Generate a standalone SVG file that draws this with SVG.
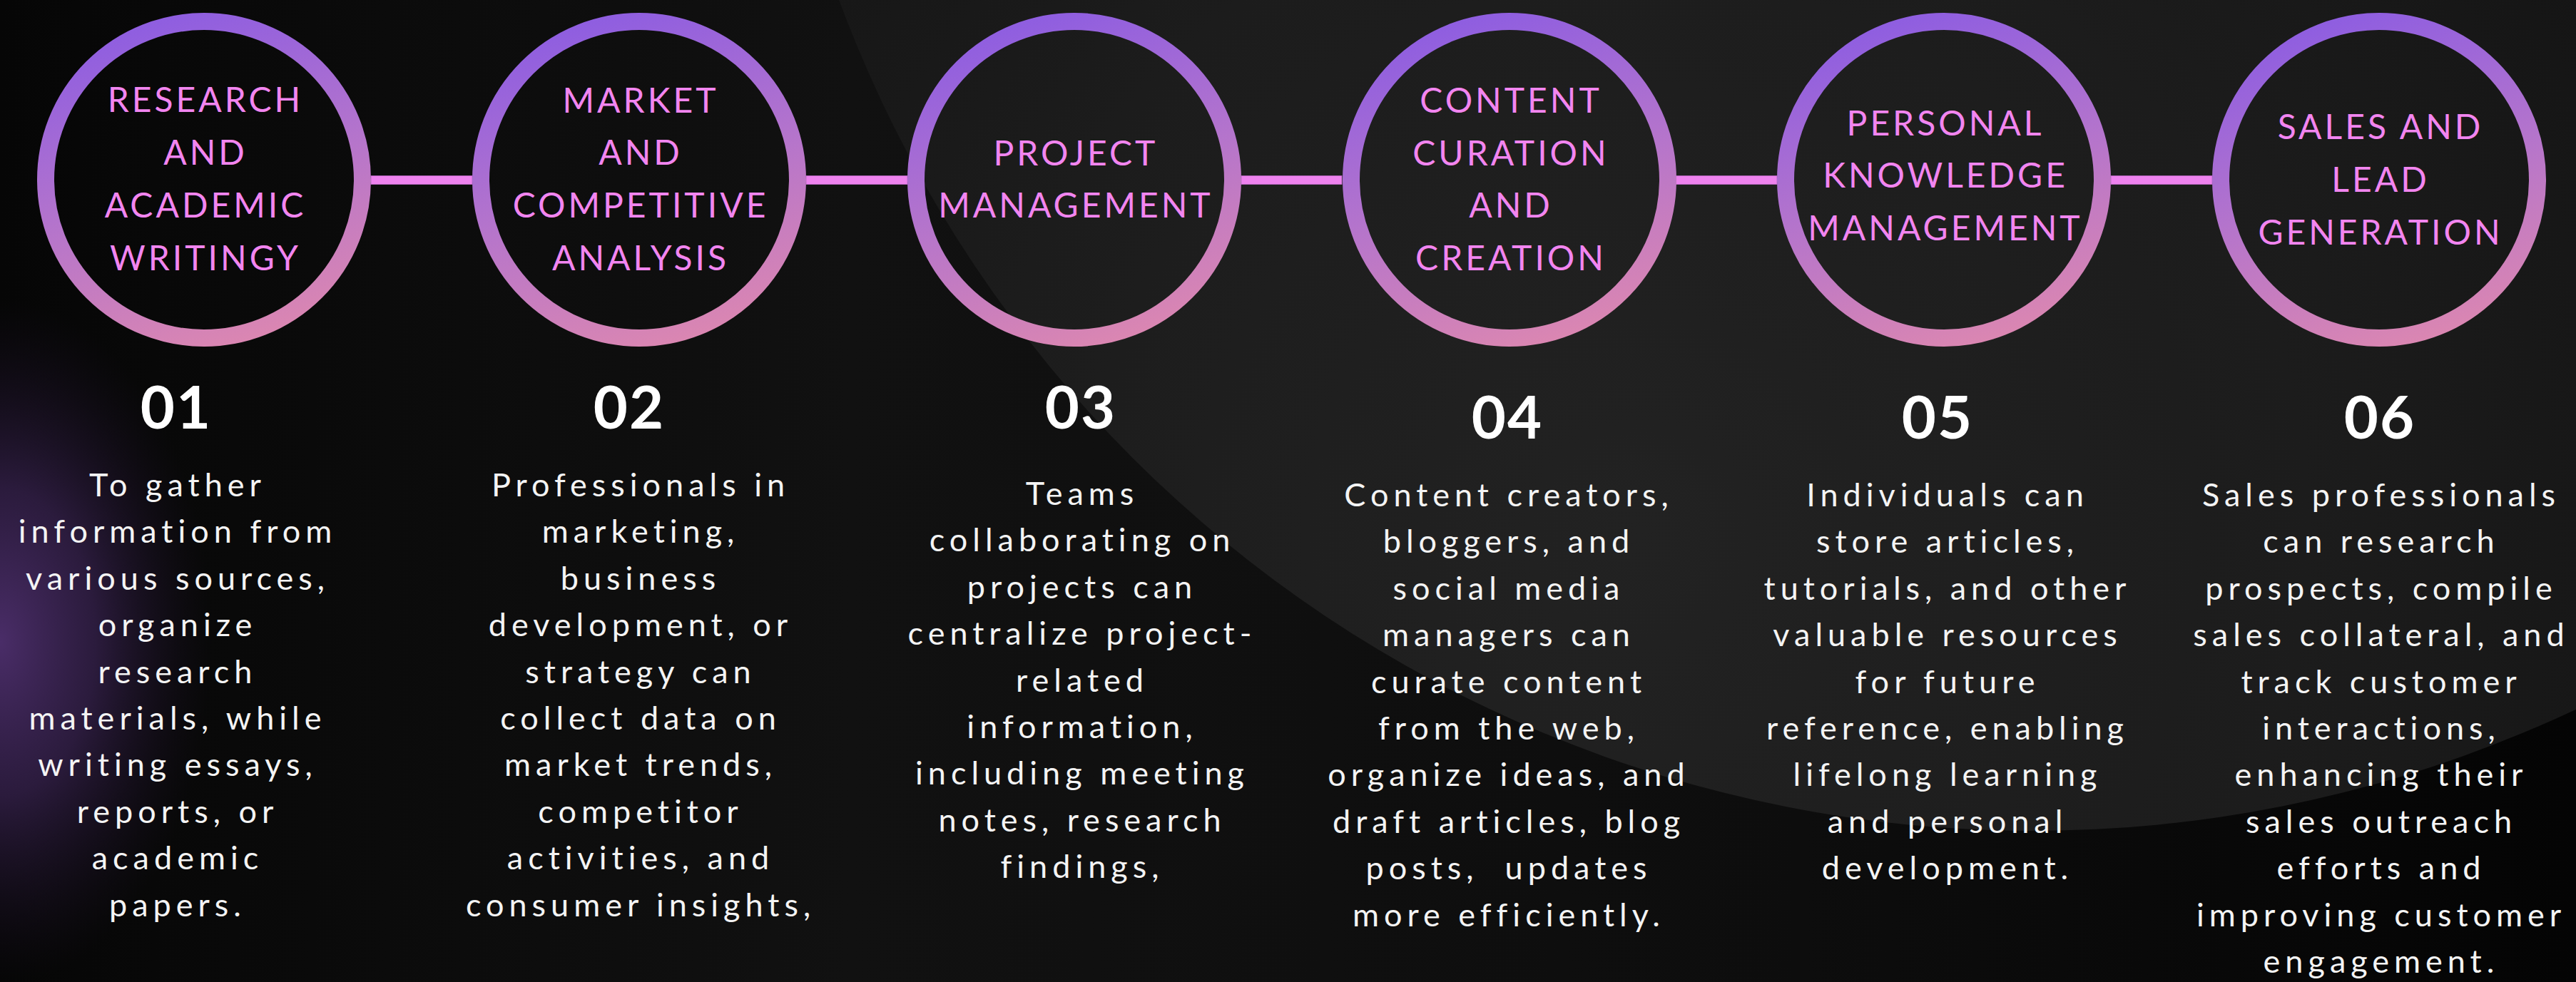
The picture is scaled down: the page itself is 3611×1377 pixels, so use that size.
<svg xmlns="http://www.w3.org/2000/svg" width="3611" height="1377" viewBox="0 0 3611 1377">
  <defs>
    <linearGradient id="bgBase" x1="0" y1="0" x2="1" y2="0">
      <stop offset="0" stop-color="#060606"/>
      <stop offset="0.33" stop-color="#111111"/>
      <stop offset="0.7" stop-color="#0d0d0d"/>
      <stop offset="1" stop-color="#040404"/>
    </linearGradient>
    <radialGradient id="bigFill" gradientUnits="userSpaceOnUse" cx="2300" cy="750" r="1700">
      <stop offset="0" stop-color="#222222"/>
      <stop offset="0.55" stop-color="#1c1c1c"/>
      <stop offset="1" stop-color="#131313"/>
    </radialGradient>
    <radialGradient id="glow" gradientUnits="userSpaceOnUse" cx="0" cy="900" r="480" gradientTransform="translate(0 900) scale(0.62 1) translate(0 -900)">
      <stop offset="0" stop-color="#4a2d68" stop-opacity="1"/>
      <stop offset="0.45" stop-color="#34204a" stop-opacity="0.8"/>
      <stop offset="1" stop-color="#1a1024" stop-opacity="0"/>
    </radialGradient>
    <linearGradient id="ring" x1="0.35" y1="0" x2="0.65" y2="1">
      <stop offset="0" stop-color="#8f5ee0"/>
      <stop offset="0.5" stop-color="#b474cc"/>
      <stop offset="1" stop-color="#da86b2"/>
    </linearGradient>
    <style>
      .ring { fill: none; stroke: url(#ring); stroke-width: 24; }
      .link { fill: #ee82ee; stroke: #b566c0; stroke-width: 0.8; }
      .title { font-family: Lato, "Open Sans", "Liberation Sans", sans-serif; font-weight: 400; font-size: 48px; fill: #f285f0; text-anchor: middle; letter-spacing: 4px; }
      .num { font-family: Lato, "Open Sans", "Liberation Sans", sans-serif; font-weight: 700; font-size: 83px; fill: #ffffff; text-anchor: middle; letter-spacing: 2px; }
      .body { font-family: Lato, "Open Sans", "Liberation Sans", sans-serif; font-weight: 400; font-size: 45px; fill: #f4f4f4; text-anchor: middle; letter-spacing: 7px; }
    </style>
  </defs>

  <g id="background">
    <rect x="0" y="0" width="3611" height="1377" fill="url(#bgBase)"/>
    <circle cx="2850" cy="-620" r="1785" fill="url(#bigFill)"/>
    <rect x="0" y="300" width="420" height="1077" fill="url(#glow)"/>
  </g>

  <g id="connectors">
    <rect class="link" x="520" y="246.5" width="142" height="12"/>
    <rect class="link" x="1130" y="246.5" width="142" height="12"/>
    <rect class="link" x="1740" y="246.5" width="141" height="12"/>
    <rect class="link" x="2349" y="246.5" width="142" height="12"/>
    <rect class="link" x="2959" y="246.5" width="142" height="12"/>
  </g>

  <g id="node1">
    <circle class="ring" cx="286" cy="252" r="222"/>
    <text class="title"><tspan x="288" y="157">RESEARCH</tspan><tspan x="288" y="231">AND</tspan><tspan x="288" y="305">ACADEMIC</tspan><tspan x="288" y="379">WRITINGY</tspan></text>
    <text class="num" x="247" y="601">01</text>
    <text class="body"><tspan x="249" y="696">To gather</tspan><tspan x="249" dy="65.4">information from</tspan><tspan x="249" dy="65.4">various sources,</tspan><tspan x="249" dy="65.4">organize</tspan><tspan x="249" dy="65.4">research</tspan><tspan x="249" dy="65.4">materials, while</tspan><tspan x="249" dy="65.4">writing essays,</tspan><tspan x="249" dy="65.4">reports, or</tspan><tspan x="249" dy="65.4">academic</tspan><tspan x="249" dy="65.4">papers.</tspan></text>
  </g>

  <g id="node2">
    <circle class="ring" cx="896" cy="252" r="222"/>
    <text class="title"><tspan x="898" y="158">MARKET</tspan><tspan x="898" y="231">AND</tspan><tspan x="898" y="305">COMPETITIVE</tspan><tspan x="898" y="379">ANALYSIS</tspan></text>
    <text class="num" x="882" y="601">02</text>
    <text class="body"><tspan x="898" y="696">Professionals in</tspan><tspan x="898" dy="65.4">marketing,</tspan><tspan x="898" dy="65.4">business</tspan><tspan x="898" dy="65.4">development, or</tspan><tspan x="898" dy="65.4">strategy can</tspan><tspan x="898" dy="65.4">collect data on</tspan><tspan x="898" dy="65.4">market trends,</tspan><tspan x="898" dy="65.4">competitor</tspan><tspan x="898" dy="65.4">activities, and</tspan><tspan x="898" dy="65.4">consumer insights,</tspan></text>
  </g>

  <g id="node3">
    <circle class="ring" cx="1506" cy="252" r="222"/>
    <text class="title"><tspan x="1508" y="232">PROJECT</tspan><tspan x="1508" y="305">MANAGEMENT</tspan></text>
    <text class="num" x="1515" y="601">03</text>
    <text class="body"><tspan x="1517" y="708">Teams</tspan><tspan x="1517" dy="65.4">collaborating on</tspan><tspan x="1517" dy="65.4">projects can</tspan><tspan x="1517" dy="65.4">centralize project-</tspan><tspan x="1517" dy="65.4">related</tspan><tspan x="1517" dy="65.4">information,</tspan><tspan x="1517" dy="65.4">including meeting</tspan><tspan x="1517" dy="65.4">notes, research</tspan><tspan x="1517" dy="65.4">findings,</tspan></text>
  </g>

  <g id="node4">
    <circle class="ring" cx="2116" cy="252" r="222"/>
    <text class="title"><tspan x="2118" y="158">CONTENT</tspan><tspan x="2118" y="232">CURATION</tspan><tspan x="2118" y="305">AND</tspan><tspan x="2118" y="379">CREATION</tspan></text>
    <text class="num" x="2113" y="615">04</text>
    <text class="body" xml:space="preserve"><tspan x="2115" y="710">Content creators,</tspan><tspan x="2115" dy="65.4">bloggers, and</tspan><tspan x="2115" dy="65.4">social media</tspan><tspan x="2115" dy="65.4">managers can</tspan><tspan x="2115" dy="65.4">curate content</tspan><tspan x="2115" dy="65.4">from the web,</tspan><tspan x="2115" dy="65.4">organize ideas, and</tspan><tspan x="2115" dy="65.4">draft articles, blog</tspan><tspan x="2115" dy="65.4">posts,  updates</tspan><tspan x="2115" dy="65.4">more efficiently.</tspan></text>
  </g>

  <g id="node5">
    <circle class="ring" cx="2725" cy="252" r="222"/>
    <text class="title"><tspan x="2727" y="190">PERSONAL</tspan><tspan x="2727" y="263">KNOWLEDGE</tspan><tspan x="2727" y="337">MANAGEMENT</tspan></text>
    <text class="num" x="2716" y="615">05</text>
    <text class="body"><tspan x="2730" y="710">Individuals can</tspan><tspan x="2730" dy="65.4">store articles,</tspan><tspan x="2730" dy="65.4">tutorials, and other</tspan><tspan x="2730" dy="65.4">valuable resources</tspan><tspan x="2730" dy="65.4">for future</tspan><tspan x="2730" dy="65.4">reference, enabling</tspan><tspan x="2730" dy="65.4">lifelong learning</tspan><tspan x="2730" dy="65.4">and personal</tspan><tspan x="2730" dy="65.4">development.</tspan></text>
  </g>

  <g id="node6">
    <circle class="ring" cx="3335" cy="252" r="222"/>
    <text class="title"><tspan x="3337" y="195">SALES AND</tspan><tspan x="3337" y="269">LEAD</tspan><tspan x="3337" y="343">GENERATION</tspan></text>
    <text class="num" x="3336" y="615">06</text>
    <text class="body"><tspan x="3338" y="710">Sales professionals</tspan><tspan x="3338" dy="65.4">can research</tspan><tspan x="3338" dy="65.4">prospects, compile</tspan><tspan x="3338" dy="65.4">sales collateral, and</tspan><tspan x="3338" dy="65.4">track customer</tspan><tspan x="3338" dy="65.4">interactions,</tspan><tspan x="3338" dy="65.4">enhancing their</tspan><tspan x="3338" dy="65.4">sales outreach</tspan><tspan x="3338" dy="65.4">efforts and</tspan><tspan x="3338" dy="65.4">improving customer</tspan><tspan x="3338" dy="65.4">engagement.</tspan></text>
  </g>
</svg>
